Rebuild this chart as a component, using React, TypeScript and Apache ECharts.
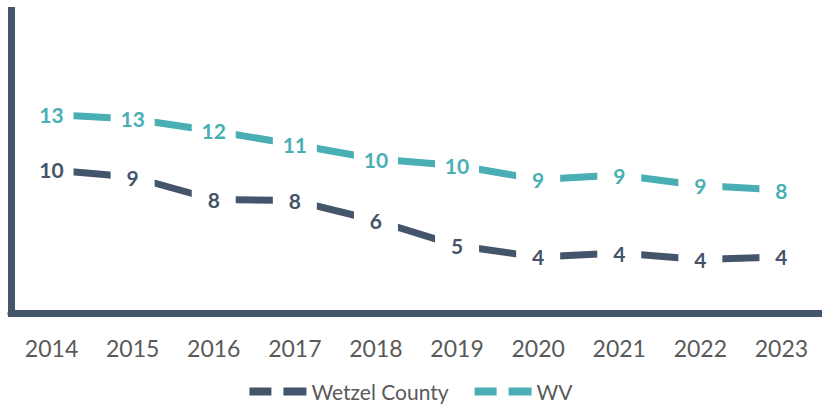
import React, { useEffect, useRef } from "react";
import * as echarts from "echarts";

const years = ["2014", "2015", "2016", "2017", "2018", "2019", "2020", "2021", "2022", "2023"];
const wetzelValues = [9.57, 9.1, 7.6, 7.53, 6.2, 4.53, 3.77, 4.03, 3.6, 3.77];
const wvValues = [13.27, 12.97, 12.17, 11.27, 10.3, 9.87, 8.93, 9.23, 8.53, 8.23];
const seriesNames = ["Wetzel County", "WV"];

const DARK = "#44546A";
const TEAL = "#4AAFB5";
const GREY = "#595959";
const FONT = "Lato, 'Open Sans', sans-serif";

export default function App() {
  const ref = useRef<HTMLDivElement>(null);
  useEffect(() => {
    if (!ref.current) return;
    const chart = echarts.init(ref.current, undefined, { renderer: "svg" });
    const mkSeries = (name: string, data: number[], color: string) => ({
      name,
      type: "line",
      data,
      symbol: "circle",
      symbolSize: 0.1,
      itemStyle: { color },
      lineStyle: { color, width: 7 },
      z: 2,
      label: {
        show: true,
        position: "inside",
        formatter: (p: any) => String(Math.round(p.value)),
        color,
        fontFamily: FONT,
        fontWeight: "bold",
        fontSize: 21,
        backgroundColor: "#ffffff",
        width: 44,
        height: 26,
        lineHeight: 26,
        align: "center",
        verticalAlign: "middle",
      },
    });
    chart.setOption({
      animation: false,
      backgroundColor: "#ffffff",
      grid: { left: 11, top: 10.5, width: 820, height: 303 },
      xAxis: {
        type: "category",
        data: years,
        boundaryGap: true,
        axisTick: { show: false },
        axisLine: { lineStyle: { color: DARK, width: 7 } },
        axisLabel: { color: GREY, fontFamily: FONT, fontSize: 23, margin: 23 },
      },
      yAxis: {
        type: "value",
        min: 0,
        max: 20.2,
        splitLine: { show: false },
        axisTick: { show: false },
        axisLabel: { show: false },
        axisLine: { show: true, lineStyle: { color: DARK, width: 7, cap: "square" } },
      },
      legend: {
        bottom: -2,
        left: "center",
        itemWidth: 57,
        itemHeight: 8,
        itemGap: 26,
        icon: "path://M0,0H22V8H0Z M34,0H57V8H34Z",
        textStyle: { color: GREY, fontFamily: FONT, fontSize: 21 },
        data: seriesNames,
      },
      series: [
        mkSeries(seriesNames[0], wetzelValues, DARK),
        mkSeries(seriesNames[1], wvValues, TEAL),
      ],
    });
    return () => chart.dispose();
  }, []);
  return (
    <div
      ref={ref}
      style={{ position: "fixed", left: 0, top: 0, width: 822, height: 405 }}
    />
  );
}
